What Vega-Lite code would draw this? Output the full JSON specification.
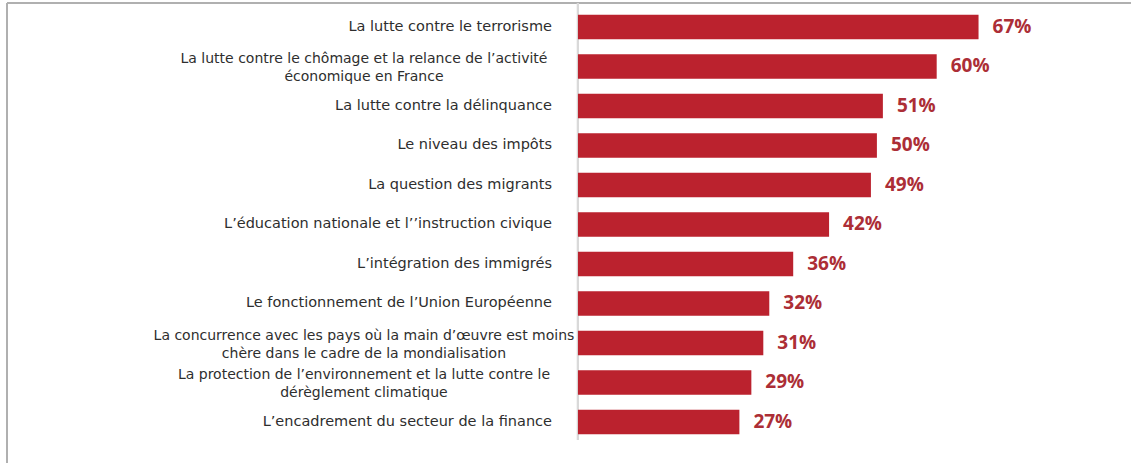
{
  "$schema": "https://vega.github.io/schema/vega-lite/v6.json",
  "width": 1124,
  "height": 460,
  "autosize": {"type": "none"},
  "padding": {"left": 7, "top": 3, "right": 2, "bottom": 2},
  "background": "white",
  "config": {
    "view": {"stroke": "#b0b0b0", "strokeWidth": 2, "strokeDash": [1124, 1584, 460, 0]}
  },
  "data": {
    "values": [
      {"label": "La lutte contre le terrorisme", "value": 67},
      {"label": "La lutte contre le chômage et la relance de l’activité\néconomique en France", "value": 60},
      {"label": "La lutte contre la délinquance", "value": 51},
      {"label": "Le niveau des impôts", "value": 50},
      {"label": "La question des migrants", "value": 49},
      {"label": "L’éducation nationale et l’’instruction civique", "value": 42},
      {"label": "L’intégration des immigrés", "value": 36},
      {"label": "Le fonctionnement de l’Union Européenne", "value": 32},
      {"label": "La concurrence avec les pays où la main d’œuvre est moins\nchère dans le cadre de la mondialisation", "value": 31},
      {"label": "La protection de l’environnement et la lutte contre le\ndérèglement climatique", "value": 29},
      {"label": "L’encadrement du secteur de la finance", "value": 27}
    ]
  },
  "transform": [
    {"calculate": "datum.value + '%'", "as": "pct"},
    {"calculate": "indexof(datum.label, '\\n') >= 0", "as": "multi"}
  ],
  "resolve": {"scale": {"y": "independent"}},
  "layer": [
    {
      "mark": {"type": "rule", "color": "#d9d9d9", "strokeWidth": 2},
      "encoding": {
        "x": {"datum": 0, "type": "quantitative", "scale": {"domain": [-95.5, 92.5], "nice": false}, "axis": null},
        "y": {"datum": 0, "type": "quantitative", "scale": {"domain": [0, 460], "reverse": true, "nice": false}, "axis": null},
        "y2": {"datum": 437}
      }
    },
    {
      "layer": [
        {
          "mark": {"type": "bar", "color": "#bb222e"},
          "encoding": {
            "x": {"field": "value", "type": "quantitative", "scale": {"domain": [-95.5, 92.5], "nice": false}, "axis": null},
            "x2": {"datum": 0},
            "y": {"field": "label", "type": "nominal", "sort": null, "axis": null,
                  "scale": {"paddingInner": 0.38, "paddingOuter": 0.513, "align": 0.29}}
          }
        },
        {
          "transform": [{"filter": "!datum.multi"}],
          "mark": {"type": "text", "align": "right", "baseline": "middle", "dx": -26, "font": "DejaVu Sans", "fontSize": 14.5, "color": "#2e2e2e"},
          "encoding": {
            "x": {"datum": 0, "type": "quantitative"},
            "y": {"field": "label", "type": "nominal", "sort": null},
            "text": {"field": "label"}
          }
        },
        {
          "transform": [{"filter": "datum.multi"}],
          "mark": {"type": "text", "align": "center", "baseline": "middle", "dx": -214, "dy": -7, "font": "DejaVu Sans", "fontSize": 14, "color": "#2e2e2e", "lineBreak": "\n", "lineHeight": 18},
          "encoding": {
            "x": {"datum": 0, "type": "quantitative"},
            "y": {"field": "label", "type": "nominal", "sort": null},
            "text": {"field": "label"}
          }
        },
        {
          "mark": {"type": "text", "align": "left", "baseline": "middle", "dx": 14, "font": "Open Sans", "fontSize": 19, "fontWeight": "bold", "color": "#ac2e36"},
          "encoding": {
            "x": {"field": "value", "type": "quantitative"},
            "y": {"field": "label", "type": "nominal", "sort": null},
            "text": {"field": "pct"}
          }
        }
      ]
    }
  ]
}
